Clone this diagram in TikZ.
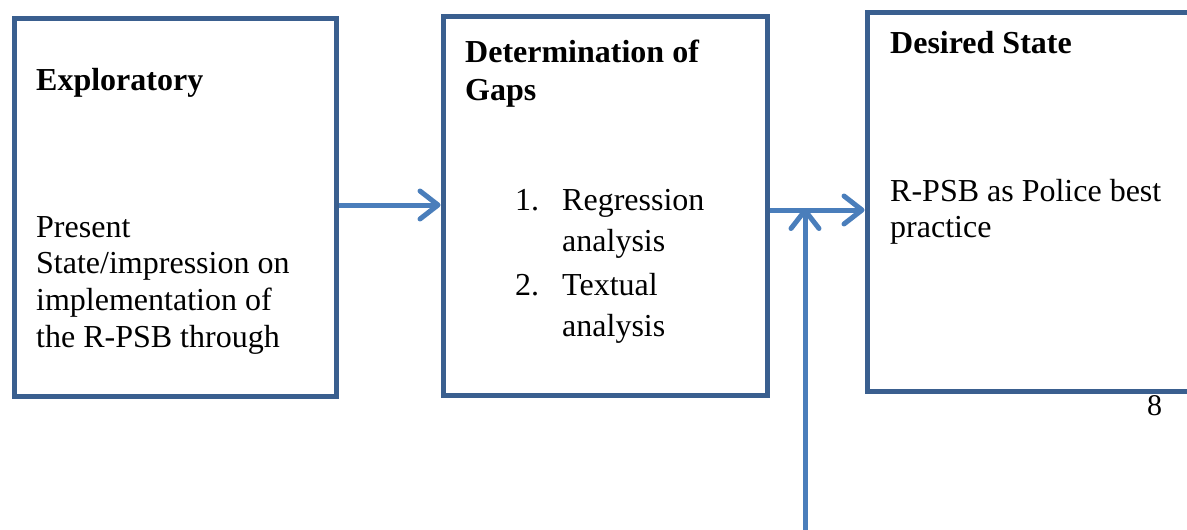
\documentclass[tikz,border=0pt]{standalone}
\usepackage{fontspec}
\setmainfont{Liberation Serif}
\usetikzlibrary{arrows.meta,positioning}
\definecolor{boxblue}{HTML}{3A5F8F}
\definecolor{arrowblue}{HTML}{4A7EBB}
\tikzset{
  stage/.style={draw=boxblue,line width=5pt,inner sep=0pt,minimum width=#1},
  stage/.default=322pt,
  flow/.style={draw=arrowblue,line width=5pt,
    -{Straight Barb[length=18pt,width=28pt,line cap=round,line join=round]}},
  label/.style={anchor=base west,inner sep=0pt,align=left,
    font=\fontsize{32}{36.7}\selectfont},
  heading/.style={label,font=\fontsize{32}{38}\selectfont\bfseries},
}
\begin{document}
\begin{tikzpicture}[x=1pt,y=-1pt]
  \useasboundingbox (0,0) rectangle (1187,530);
  % the three stages
  \node[stage,minimum height=378pt] (explo) at (175,207) {};
  \node[stage=324pt,minimum height=379pt] (gaps) at (605,205.5) {};
  \node[stage=336pt,minimum height=379pt] (goal) at (1035,201.5) {};

  % texts (base = last line)
  \node[heading] (exploT) at (36,90) {Exploratory};
  \node[label] (exploB) at (36,347.1) {Present\\State/impression on\\implementation of\\the R-PSB through};

  \node[heading] (gapsT) at (465,100.7) {Determination of\\Gaps};
  \foreach \n/\word/\y in {1/Regression/210,2/Textual/295} {
    \node[label] (num\n) at (515,\y) {\n.};
    \node[label,font=\fontsize{32}{41.5}\selectfont] (item\n) at (562,\y+41.5) {\word\\analysis};
  }

  \node[heading] (goalT) at (890,53.3) {Desired State};
  \node[label,font=\fontsize{32}{35.5}\selectfont] (goalB) at (890,237) {R-PSB as Police best\\practice};

  \node[label,font=\fontsize{30}{36}\selectfont] (page) at (1147,415) {8};

  % connectors
  \coordinate (join) at (805,210);
  \coordinate (feed) at (805,532);
  \draw[flow] (explo.east |- 0,205) -- (gaps.west |- 0,205);
  \draw[flow] (gaps.east |- join) -- (goal.west |- join);
  \draw[flow] (feed) -- ([yshift=2pt]join);
\end{tikzpicture}
\end{document}
